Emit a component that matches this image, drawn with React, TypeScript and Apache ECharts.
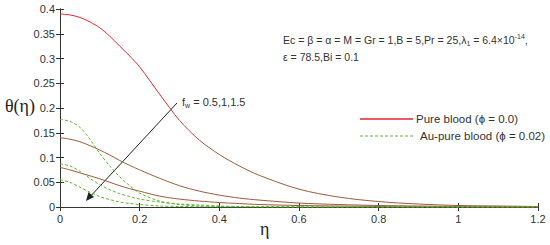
import React, { useEffect, useRef } from "react";
import * as echarts from "echarts";

const eta = [0, 0.025, 0.05, 0.075, 0.1, 0.125, 0.15, 0.175, 0.2, 0.25, 0.3, 0.35, 0.4, 0.45, 0.5, 0.6, 0.7, 0.8, 0.9, 1.0, 1.1, 1.2];

const pure1 = [0.39, 0.388, 0.383, 0.374, 0.362, 0.345, 0.325, 0.305, 0.283, 0.228, 0.175, 0.135, 0.106, 0.083, 0.064, 0.036, 0.02, 0.011, 0.006, 0.003, 0.002, 0.001];
const pure2 = [0.14, 0.137, 0.132, 0.124, 0.115, 0.105, 0.094, 0.084, 0.075, 0.058, 0.043, 0.032, 0.024, 0.018, 0.014, 0.008, 0.005, 0.003, 0.002, 0.001, 0.0005, 0.0003];
const pure3 = [0.08, 0.075, 0.069, 0.063, 0.057, 0.05, 0.043, 0.037, 0.032, 0.022, 0.016, 0.012, 0.009, 0.007, 0.005, 0.003, 0.002, 0.001, 0.0005, 0.0003, 0.0002, 0.0001];
const au1 = [0.177, 0.173, 0.161, 0.137, 0.108, 0.083, 0.061, 0.043, 0.028, 0.012, 0.005, 0.002, 0.001, 0.0005, 0.0003, 0.0001, 0, 0, 0, 0, 0, 0];
const au2 = [0.087, 0.083, 0.072, 0.058, 0.045, 0.035, 0.027, 0.021, 0.016, 0.01, 0.006, 0.004, 0.002, 0.001, 0.0005, 0.0002, 0, 0, 0, 0, 0, 0];
const au3 = [0.055, 0.05, 0.04, 0.03, 0.021, 0.015, 0.01, 0.007, 0.005, 0.002, 0.001, 0.0005, 0.0002, 0.0001, 0, 0, 0, 0, 0, 0, 0, 0];

const xTicks = [0, 0.2, 0.4, 0.6, 0.8, 1, 1.2];
const yTicks = [0, 0.05, 0.1, 0.15, 0.2, 0.25, 0.3, 0.35, 0.4];

const RED = "#e8232b";
const BROWN = "#9c5a3c";
const GREEN = "#5cb82e";
const FONT = "Liberation Sans";
const SERIF = "Liberation Serif";

function pairs(ys: number[]) {
  return eta.map((x, i) => [x, ys[i]]);
}

export default function App() {
  const ref = useRef<HTMLDivElement>(null);
  useEffect(() => {
    if (!ref.current) return;
    const chart = echarts.init(ref.current, null, { renderer: "svg" });
    const axisLine = { show: true, lineStyle: { color: "#333", width: 1 } };
    const tick = { show: true, inside: true, length: 4, lineStyle: { color: "#333" } };
    const line = (data: number[], color: any, dashed: boolean, name: string) => ({
      type: "line",
      name,
      data: pairs(data),
      showSymbol: false,
      smooth: 0.3,
      lineStyle: { color, width: 1, type: dashed ? [3, 2] : "solid" },
      itemStyle: { color: dashed ? GREEN : RED },
      z: dashed ? 3 : 2,
    });
    const redGrad = new echarts.graphic.LinearGradient(0, 0, 1, 0, [
      { offset: 0, color: RED },
      { offset: 0.2, color: RED },
      { offset: 0.3, color: BROWN },
      { offset: 1, color: BROWN },
    ]);
    chart.setOption({
      animation: false,
      grid: { left: 60, right: 12, top: 9, bottom: 38 },
      xAxis: [
        {
          type: "value", min: 0, max: 1.2, interval: 0.2,
          axisLine, axisTick: tick, splitLine: { show: false },
          axisLabel: { color: "#333", fontFamily: FONT, fontSize: 11, margin: 6, formatter: (v: number) => (xTicks.includes(+v.toFixed(2)) ? String(+v.toFixed(2)) : "") },
        },
        {
          type: "value", position: "top", min: 0, max: 1.2, interval: 0.2,
          axisLine, axisTick: tick, splitLine: { show: false }, axisLabel: { show: false },
        },
      ],
      yAxis: [
        {
          type: "value", min: 0, max: 0.4, interval: 0.05,
          axisLine, axisTick: tick, splitLine: { show: false },
          axisLabel: { color: "#333", fontFamily: FONT, fontSize: 11, margin: 5, formatter: (v: number) => (yTicks.includes(+v.toFixed(2)) ? String(+v.toFixed(2)) : "") },
        },
        {
          type: "value", position: "right", min: 0, max: 0.4, interval: 0.05,
          axisLine, axisTick: tick, splitLine: { show: false }, axisLabel: { show: false },
        },
      ],
      series: [
        line(pure1, redGrad, false, "Pure blood (ϕ = 0.0)"),
        line(pure2, BROWN, false, "Pure blood (ϕ = 0.0)"),
        line(pure3, BROWN, false, "Pure blood (ϕ = 0.0)"),
        line(au1, GREEN, true, "Au-pure blood (ϕ = 0.02)"),
        line(au2, GREEN, true, "Au-pure blood (ϕ = 0.02)"),
        line(au3, GREEN, true, "Au-pure blood (ϕ = 0.02)"),
      ],
      graphic: [
        { type: "text", left: 5, top: 97, style: { text: "θ(η)", font: `18px '${SERIF}'`, fill: "#222" } },
        { type: "text", left: 260, top: 220, style: { text: "η", font: `18px '${SERIF}'`, fill: "#222" } },
        {
          type: "text", left: 283, top: 33,
          style: {
            rich: {
              n: { fontFamily: FONT, fontSize: 10.5, fill: "#333" },
              sub: { fontFamily: FONT, fontSize: 7, fill: "#333", padding: [8, 0, 0, 0] },
              sup: { fontFamily: FONT, fontSize: 7, fill: "#333", padding: [0, 0, 6, 0] },
            },
            text: "{n|Ec = β = α = M = Gr = 1,B = 5,Pr = 25,λ}{sub|1}{n| = 6.4×10}{sup|-14}{n|,}",
          },
        },
        { type: "text", left: 283, top: 51, style: { text: "ε = 78.5,Bi = 0.1", font: `10.5px '${FONT}'`, fill: "#333" } },
        {
          type: "text", left: 182, top: 96,
          style: {
            rich: {
              n: { fontFamily: FONT, fontSize: 11, fill: "#333" },
              sub: { fontFamily: FONT, fontSize: 7, fill: "#333", padding: [8, 0, 0, 0] },
            },
            text: "{n|f}{sub|w}{n| = 0.5,1,1.5}",
          },
        },
        { type: "line", shape: { x1: 177, y1: 103, x2: 88, y2: 199 }, style: { stroke: "#222", lineWidth: 1 } },
        { type: "polygon", shape: { points: [[86, 201], [88.5, 192], [94, 197]] }, style: { fill: "#222" } },
        { type: "rect", shape: { x: 356, y: 111, width: 180, height: 34 }, style: { fill: "#fff" }, z: 10 },
        { type: "line", shape: { x1: 360, y1: 119, x2: 413, y2: 119 }, style: { stroke: RED, lineWidth: 1.5 }, z: 11 },
        { type: "text", left: 416, top: 113, z: 11, style: { text: "Pure blood (ϕ = 0.0)", font: `11.5px '${FONT}'`, fill: "#333" } },
        { type: "line", shape: { x1: 360, y1: 136, x2: 413, y2: 136 }, style: { stroke: GREEN, lineWidth: 1, lineDash: [3, 2] }, z: 11 },
        { type: "text", left: 420, top: 130, z: 11, style: { text: "Au-pure blood (ϕ = 0.02)", font: `11.5px '${FONT}'`, fill: "#333" } },
      ],
    });
    return () => chart.dispose();
  }, []);
  return <div ref={ref} style={{ width: 550, height: 245, position: "absolute", left: 0, top: 0 }} />;
}
